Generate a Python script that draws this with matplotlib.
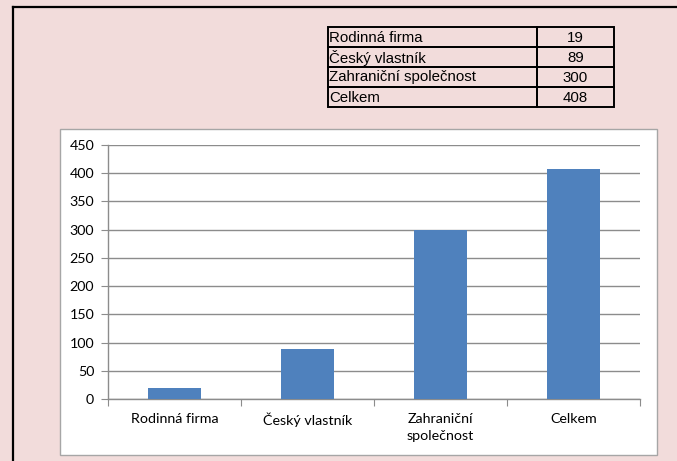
import matplotlib
matplotlib.use("Agg")
from matplotlib import pyplot as plt
from matplotlib.patches import Rectangle
from matplotlib.lines import Line2D
import numpy as np

# data
categories = ["Rodinná firma", "Český vlastník", "Zahraniční\nspolečnost", "Celkem"]
table_labels = ["Rodinná firma", "Český vlastník", "Zahraniční společnost", "Celkem"]
values = [19, 89, 300, 408]
y_ticks = [0, 50, 100, 150, 200, 250, 300, 350, 400, 450]

W, H = 677, 461
PINK = "#f2dcdb"
BLUE = "#4f81bd"
GREY = "#8c8c8c"


def fx(x):
    return x / W


def fy(y):
    return 1 - y / H


fig = plt.figure(figsize=(W / 100, H / 100), dpi=100, facecolor=PINK)

# outer frame (left and top edges only visible)
fig.add_artist(Line2D([fx(12.5), fx(12.5)], [fy(7), 0], color="black", lw=1.6))
fig.add_artist(Line2D([fx(12.5), 1], [fy(7), fy(7)], color="black", lw=1.6))

# white chart box, kept under the axes
fig.add_artist(Rectangle((fx(60), fy(455)), fx(657) - fx(60), fy(129) - fy(455),
                         facecolor="white", edgecolor="#a6a6a6", lw=1.0, zorder=-1))

# small data table
tx0, tx1, tx2 = 328, 537, 614
ty0, row_h = 27, 20
for i, (lab, val) in enumerate(zip(table_labels, values)):
    top = ty0 + i * row_h
    fig.add_artist(Rectangle((fx(tx0), fy(top + row_h)), fx(tx1) - fx(tx0), fy(top) - fy(top + row_h),
                             facecolor="none", edgecolor="black", lw=1.4))
    fig.add_artist(Rectangle((fx(tx1), fy(top + row_h)), fx(tx2) - fx(tx1), fy(top) - fy(top + row_h),
                             facecolor="none", edgecolor="black", lw=1.4))
    fig.text(fx(tx0 + 1), fy(top + row_h / 2 + 0.5), lab, ha="left", va="center",
             fontsize=10.8, family="Liberation Sans")
    fig.text(fx((tx1 + tx2) / 2), fy(top + row_h / 2 + 0.5), str(val), ha="center", va="center",
             fontsize=10.8, family="Liberation Sans")

# bar chart
ax = fig.add_axes([fx(108), fy(399), fx(640) - fx(108), fy(145) - fy(399)])
ax.set_facecolor("none")
x = np.arange(len(categories))
ax.bar(x, values, width=0.4, color=BLUE, zorder=3)
ax.set_xlim(-0.5, len(categories) - 0.5)
ax.set_ylim(0, 450)
ax.set_yticks(y_ticks)
ax.grid(axis="y", color=GREY, lw=1.0, zorder=0)
ax.set_axisbelow(True)
for s in ["top", "right"]:
    ax.spines[s].set_visible(False)
for s in ["left", "bottom"]:
    ax.spines[s].set_color(GREY)
    ax.spines[s].set_linewidth(1.0)

ax.set_xticks(np.arange(len(categories) + 1) - 0.5)
ax.set_xticklabels([])
ax.set_xticks(x, minor=True)
ax.set_xticklabels(categories, minor=True)
ax.tick_params(axis="x", which="major", length=5, color=GREY, direction="out")
ax.tick_params(axis="x", which="minor", length=0, pad=10, labelsize=10.3)
ax.tick_params(axis="y", length=5, color=GREY, pad=5, labelsize=10.3)
for lab in ax.get_xticklabels(minor=True) + ax.get_yticklabels():
    lab.set_family("Lato")
    lab.set_color("black")
for lab in ax.get_xticklabels(minor=True):
    lab.set_linespacing(1.55)

fig.savefig("out.png", dpi=100, facecolor=PINK)
